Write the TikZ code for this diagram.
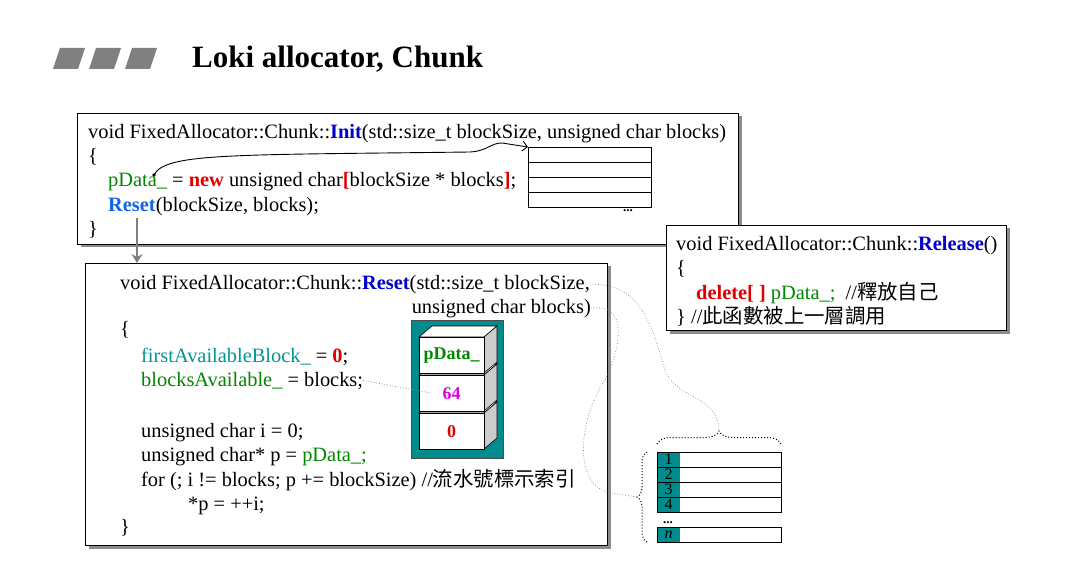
\documentclass[tikz,border=0pt]{standalone}
\usepackage{fontspec}
\setmainfont{Liberation Serif}
\newfontfamily\cjk{Noto Sans CJK TC}
\usetikzlibrary{arrows.meta,decorations.pathreplacing,shadows}
\definecolor{titlegray}{RGB}{128,128,128}
\definecolor{kwblue}{RGB}{0,0,205}
\definecolor{rsblue}{RGB}{20,100,230}
\definecolor{kwred}{RGB}{225,0,0}
\definecolor{idgreen}{RGB}{0,135,0}
\definecolor{idteal}{RGB}{0,150,150}
\definecolor{stackteal}{RGB}{0,140,140}
\definecolor{numpink}{RGB}{230,0,230}
\begin{document}
\begin{tikzpicture}[x=1pt,y=-1pt,
	code/.style={anchor=base west,inner sep=0pt,font=\fontsize{20.4}{24}\selectfont},
	codebox/.style={draw=black,line width=1pt,fill=white,anchor=north west,inner sep=0pt,
		drop shadow={shadow xshift=3pt,shadow yshift=-3pt,fill=black!45,opacity=1}},
	cell/.style={draw=black,line width=0.8pt,anchor=north west,minimum width=124pt,minimum height=15pt,inner sep=0pt},
	crate/.style={draw=black,fill=white,anchor=north west,minimum width=65pt,minimum height=36pt,inner sep=0pt,
		font=\bfseries\fontsize{18}{18}\selectfont},
	dots/.style={inner sep=0pt,font=\bfseries\fontsize{13}{13}\selectfont},
	link/.style={gray,dotted,line width=0.7pt}]
	\useasboundingbox (0,0) rectangle (1081,577);
	
	\foreach \dx in {0,36,72}
		\fill[titlegray] (60+\dx,48) -- (85+\dx,48) -- (78+\dx,69) -- (53+\dx,69) -- cycle;
	\node[anchor=base west,inner sep=0pt,font=\bfseries\fontsize{31}{31}\selectfont] (title) at (192,68) {Loki allocator, Chunk};
	
	\node[codebox,minimum width=661pt,minimum height=131pt] (initbox) at (77,113) {};
	\begin{scope}[every node/.style={code}]
		\node (i1) at (88,139) {void FixedAllocator::Chunk::\textcolor{kwblue}{\textbf{Init}}(std::size\_t blockSize, unsigned char blocks)};
		\node (i2) at (88,163) {\{};
		\node (i3) at (108,187) {\textcolor{idgreen}{pData\_} = \textcolor{kwred}{\textbf{new}} unsigned char\textcolor{kwred}{\textbf{[}}blockSize * blocks\textcolor{kwred}{\textbf{]}};};
		\node (i4) at (108,212) {\textcolor{rsblue}{\textbf{Reset}}(blockSize, blocks);};
		\node (i5) at (88,236) {\}};
	\end{scope}
	\foreach \i in {0,...,3}
		\node[cell,minimum width=123pt] (arr\i) at (528,147+15*\i) {};
	\node[dots] (arrdots) at (628,211) {...};
	\coordinate (pdot) at (154,175);
	\fill (pdot) circle (1.8pt);
	\draw[line width=0.9pt,-{Straight Barb[length=5pt,width=10pt]}] (pdot) .. controls (165,153) and (230,155) .. (470,152)
		.. controls (488,151) and (490,143) .. (502,143) -- (arr0.north west);
	
	\node[codebox,minimum width=340pt,minimum height=105pt] (relbox) at (666,225) {};
	\begin{scope}[every node/.style={code}]
		\node (e1) at (676,251) {void FixedAllocator::Chunk::\textcolor{kwblue}{\textbf{Release}}()};
		\node (e2) at (676,275) {\{};
		\node (e3) at (696,299) {\textcolor{kwred}{\textbf{delete[ ]}} \textcolor{idgreen}{pData\_;}\ \ //{\cjk 釋放自己}};
		\node (e4) at (676,323) {\} //{\cjk 此函數被上一層調用}};
	\end{scope}
	
	\node[codebox,minimum width=522pt,minimum height=282pt] (resetbox) at (85,263) {};
	\coordinate (rsrc) at (137,218);
	\draw[titlegray,line width=2pt,-{Stealth[length=9pt,width=11pt,inset=3pt]}] (rsrc) -- (rsrc |- resetbox.north);
	\begin{scope}[every node/.style={code}]
		\node (r1) at (120,289) {void FixedAllocator::Chunk::\textcolor{kwblue}{\textbf{Reset}}(std::size\_t blockSize,};
		\node[anchor=base east] (r2) at (591,313) {unsigned char blocks)};
		\node (r3) at (120,335) {\{};
		\node (r4) at (141,362) {\textcolor{idteal}{firstAvailableBlock\_} = \textcolor{kwred}{\textbf{0}};};
		\node (r5) at (141,386) {\textcolor{idgreen}{blocksAvailable\_} = blocks;};
		\node (r6) at (141,437) {unsigned char i = 0;};
		\node (r7) at (141,461) {unsigned char* p = \textcolor{idgreen}{pData\_;}};
		\node (r8) at (141,486) {for (; i != blocks; p += blockSize) //{\cjk 流水號標示索引}};
		\node (r9) at (188,510) {*p = ++i;};
		\node (r10) at (120,533) {\}};
	\end{scope}
	
	\filldraw[fill=stackteal,draw=black!70,line width=0.8pt] (411,320) rectangle (503,458);
	\foreach \ty/\nm/\lbl in {413/vzero/\textcolor{kwred}{0},375/vsixfour/\textcolor{numpink}{64},337/vpdata/\textcolor{idgreen}{pData\_}} {
		\filldraw[fill=white,draw=black,line width=0.6pt] (419,\ty) -- (432,\ty-11) -- (497,\ty-11) -- (484,\ty) -- cycle;
		\filldraw[fill=gray!40,draw=black,line width=0.6pt] (484,\ty) -- (497,\ty-11) -- (497,\ty+25) -- (484,\ty+36) -- cycle;
		\node[crate] (\nm) at (419,\ty) {\lbl};
	}
	\draw[link] (r5.east) -- ([xshift=-20pt]vsixfour.center);
	
	\foreach \i in {1,...,4} {
		\fill[stackteal] (657,437+15*\i) rectangle ++(23,15);
		\node[cell] (row\i) at (657,437+15*\i) {};
		\node[inner sep=0pt,font=\fontsize{16}{16}\selectfont] (num\i) at (668.5,444.5+15*\i) {\i};
	}
	\node[dots] (rowdots) at (668,523) {...};
	\fill[stackteal] (657,527) rectangle ++(23,15);
	\node[cell] (rown) at (657,527) {};
	\node[inner sep=0pt,font=\itshape\fontsize{16}{16}\selectfont] (numn) at (668.5,534.5) {n};
	
	\draw[dotted,line width=1pt,decorate,decoration={brace,amplitude=13pt}] (657,444) -- (781,444);
	\draw[dotted,line width=1pt,decorate,decoration={brace,amplitude=10pt}] (647,542) -- (647,452);
	\coordinate (toptip) at (719,431);
	\coordinate (lefttip) at (637,497);
	\draw[link] (r1.east) .. controls (640,284) and (650,320) .. (665,370)
		.. controls (676,400) and (719,395) .. (toptip);
	\draw[link] (r2.east) .. controls (628,303) and (622,345) .. (605,380)
		.. controls (578,420) and (572,488) .. (612,493) -- (lefttip);
\end{tikzpicture}
\end{document}
